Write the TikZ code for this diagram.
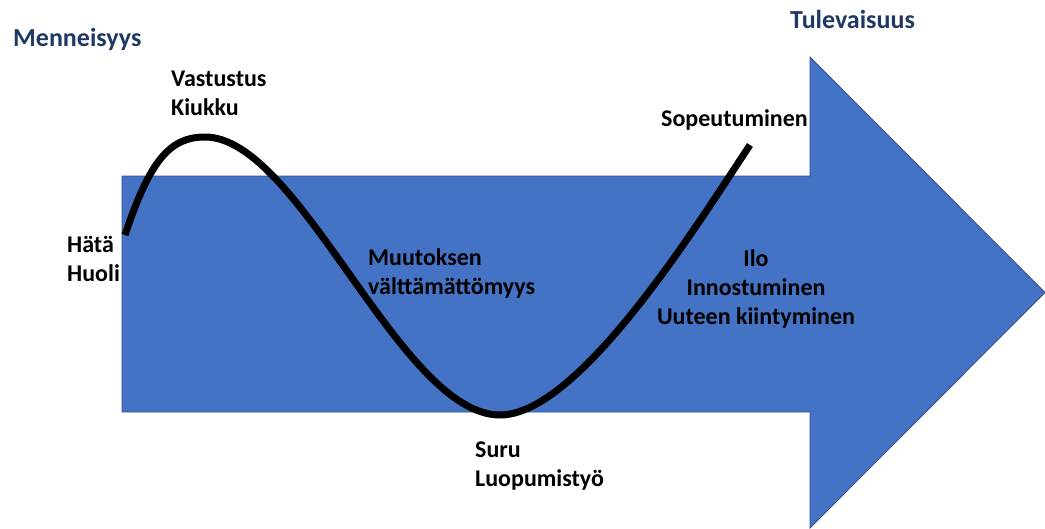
\documentclass[tikz,border=0pt]{standalone}
\usepackage{fontspec}
\setmainfont{Carlito}
\definecolor{arrowblue}{HTML}{4472C4}
\definecolor{arrowedge}{HTML}{2F528F}
\definecolor{titleblue}{HTML}{203864}
\begin{document}
\begin{tikzpicture}[x=1pt,y=-1pt,
  lbl/.style={font=\fontsize{24}{29}\selectfont\bfseries, inner sep=0pt, align=left, anchor=base west},
  clbl/.style={font=\fontsize{24}{29}\selectfont\bfseries, inner sep=0pt, align=center, anchor=base},
  ttl/.style={font=\fontsize{26}{30}\selectfont\bfseries, text=titleblue, inner sep=0pt, anchor=base west},
  bigarrow/.style={fill=arrowblue, draw=arrowedge, line width=0.8pt},
  wave/.style={line width=7pt, line cap=butt, draw=black}]
\useasboundingbox (0,0) rectangle (1045,528);
\path[bigarrow] (122,176) -- (810,176) -- (810,57) -- (1045,292.5) -- (810,528) -- (810,412) -- (122,412) -- cycle;
\draw[wave] (125,235) .. controls (150,160) and (170,137) .. (205,137)
  .. controls (300,137) and (400,415) .. (500,415)
  .. controls (580,415) and (700,220) .. (750,145);
\node[ttl] (past) at (13,46.7) {Menneisyys};
\node[ttl] (future) at (790,28) {Tulevaisuus};
\node[lbl] (anger) at (171,115) {Vastustus\\Kiukku};
\node[lbl] (worry) at (67,281.7) {Hätä\\Huoli};
\node[lbl] (change) at (368,294.5) {Muutoksen\\välttämättömyys};
\node[lbl] (grief) at (475,486) {Suru\\Luopumistyö};
\node[lbl] (adapt) at (661,126) {Sopeutuminen};
\node[clbl] (joy) at (756,324) {Ilo\\Innostuminen\\Uuteen kiintyminen};
\end{tikzpicture}
\end{document}
